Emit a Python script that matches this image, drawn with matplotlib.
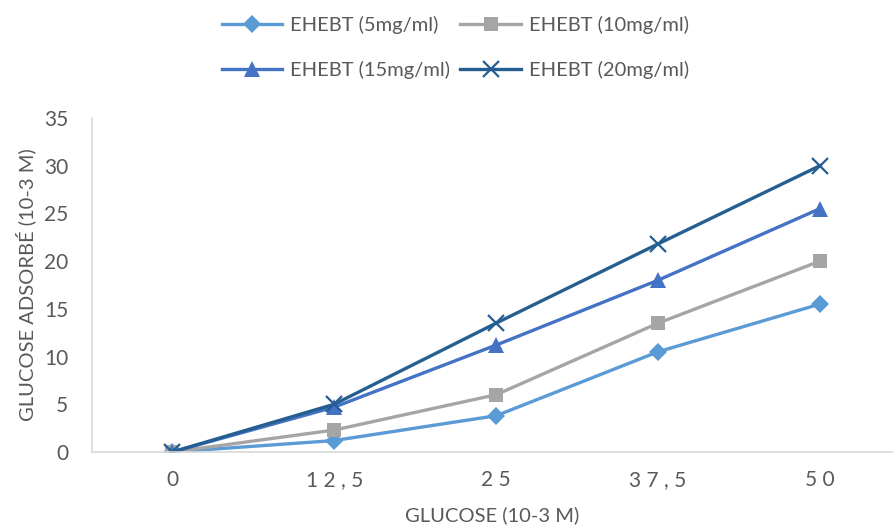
import matplotlib.pyplot as plt

# données
glucose = ["0", "12,5", "25", "37,5", "50"]
ehebt_5 = [0, 1.2, 3.8, 10.5, 15.5]
ehebt_10 = [0, 2.3, 6.0, 13.5, 20.0]
ehebt_15 = [0, 4.7, 11.2, 18.0, 25.5]
ehebt_20 = [0, 5.0, 13.5, 21.8, 30.0]

plt.rcParams["font.family"] = ["Lato", "DejaVu Sans"]
txt = "#595959"

fig = plt.figure(figsize=(8.93, 5.27), dpi=100)
ax = fig.add_axes([0.103, 0.1423, 0.897, 0.634])

x = list(range(len(glucose)))
series = [
    (ehebt_5, "EHEBT (5mg/ml)", "#5B9BD5", "D", 9),
    (ehebt_10, "EHEBT (10mg/ml)", "#A5A5A5", "s", 10),
    (ehebt_15, "EHEBT (15mg/ml)", "#4472C4", "^", 11),
    (ehebt_20, "EHEBT (20mg/ml)", "#255E91", "x", 11),
]
lines = []
for vals, lab, col, mk, ms in series:
    ln, = ax.plot(x, vals, color=col, lw=2.4, marker=mk, ms=ms, mew=1.6 if mk == "x" else 0,
                  mfc=col, mec=col, label=lab)
    lines.append(ln)

ax.set_xlim(-0.495, 4.45)
ax.set_ylim(0, 35)
ax.set_yticks(range(0, 36, 5))
ax.set_xticks(x)
ax.set_xticklabels([" ".join(g) for g in glucose])
ax.tick_params(length=0, labelsize=15, colors=txt)
ax.tick_params(axis="x", pad=13)
ax.tick_params(axis="y", pad=17)

for s in ["top", "right"]:
    ax.spines[s].set_visible(False)
for s in ["left", "bottom"]:
    ax.spines[s].set_color("#D9D9D9")
    ax.spines[s].set_linewidth(1.2)

ax.set_xlabel("GLUCOSE (10-3 M)", fontsize=14.5, color=txt, labelpad=12)
ax.set_ylabel("GLUCOSE ADSORBÉ (10-3 M)", fontsize=14.5, color=txt, labelpad=6)

# ordre par lignes : (5, 10) puis (15, 20)
order = [0, 2, 1, 3]
fig.legend([lines[i] for i in order], [series[i][1] for i in order],
           loc="upper center", bbox_to_anchor=(0.51, 1.005), ncol=2, frameon=False,
           fontsize=14.5, labelcolor=txt, handlelength=3.0, handletextpad=0.4,
           columnspacing=0.5, labelspacing=1.35)

fig.savefig("out.png", dpi=100)
